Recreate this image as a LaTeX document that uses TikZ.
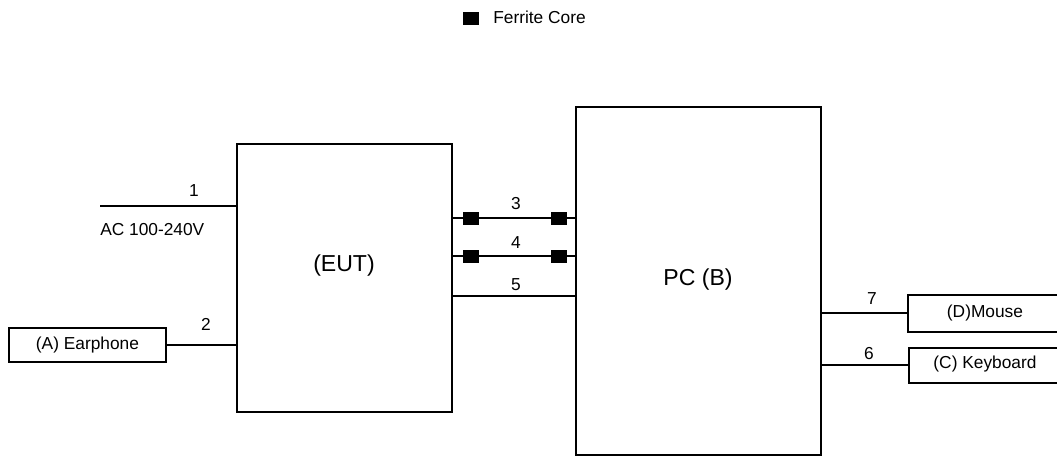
\documentclass[tikz,border=0pt]{standalone}
\usepackage{fontspec}
\setmainfont{Liberation Sans}
\usetikzlibrary{fit}
\begin{document}
\begin{tikzpicture}[x=0.75pt,y=-0.75pt,
  box/.style={draw=black,line width=1.45pt,inner sep=0pt,fill=white},
  wire/.style={draw=black,line width=1.4pt},
  ferrite/.style={fill=black,draw=none,minimum width=12pt,minimum height=9.75pt,inner sep=0pt},
  lbl/.style={inner sep=0pt,font=\fontsize{13}{15}\selectfont},
  biglbl/.style={inner sep=0pt,font=\fontsize{17.3}{20}\selectfont}]
\clip (0,0) rectangle (1057,457);
\fill[white] (0,0) rectangle (1057,457);
% legend
\node[ferrite] (leg) at (471,18.5) {};
\node[lbl,anchor=west] (legtext) at (493,17.5) {Ferrite Core};
% main boxes
\node[box,fit={(237,144) (452,412)}] (eut) {};
\node[biglbl] (eutlabel) at (344,266) {(EUT)};
\node[box,fit={(576,107) (821,455)}] (pc) {};
\node[biglbl] (pclabel) at (698,280) {PC (B)};
% peripheral boxes
\node[box,fit={(9,328) (166,362)}] (earph) {};
\node[lbl] at (earph.center) {(A) Earphone};
\node[box,fit={(908,295) (1062,332)}] (mouse) {};
\node[lbl] at (985,313) {(D)Mouse};
\node[box,fit={(909,348) (1062,383)}] (kbd) {};
\node[lbl] at (985,364) {(C) Keyboard};
% helper coordinates
\coordinate (ac) at (100,206);
\coordinate (y3) at (0,218);
\coordinate (y4) at (0,256);
\coordinate (y5) at (0,296);
\coordinate (y7) at (0,313);
\coordinate (y6) at (0,365);
% connectors
\draw[wire] (ac) -- (eut.west |- ac);
\node[lbl] (n1) at (194,191) {1};
\node[lbl,anchor=west] (acl) at (100,230) {AC 100-240V};
\draw[wire] (earph.east) -- (eut.west |- earph.east);
\node[lbl] (n2) at (206,324) {2};
\draw[wire] (eut.east |- y3) -- (pc.west |- y3);
\draw[wire] (eut.east |- y4) -- (pc.west |- y4);
\draw[wire] (eut.east |- y5) -- (pc.west |- y5);
\node[lbl] (n3) at (516,204) {3};
\node[lbl] (n4) at (516,243) {4};
\node[lbl] (n5) at (516,285) {5};
\node[ferrite] (f3a) at (471,218) {};
\node[ferrite] (f3b) at (559,218) {};
\node[ferrite] (f4a) at (471,256) {};
\node[ferrite] (f4b) at (559,256) {};
\draw[wire] (pc.east |- y7) -- (mouse.west |- y7);
\draw[wire] (pc.east |- y6) -- (kbd.west |- y6);
\node[lbl] (n7) at (872,299) {7};
\node[lbl] (n6) at (869,354) {6};
\end{tikzpicture}
\end{document}
